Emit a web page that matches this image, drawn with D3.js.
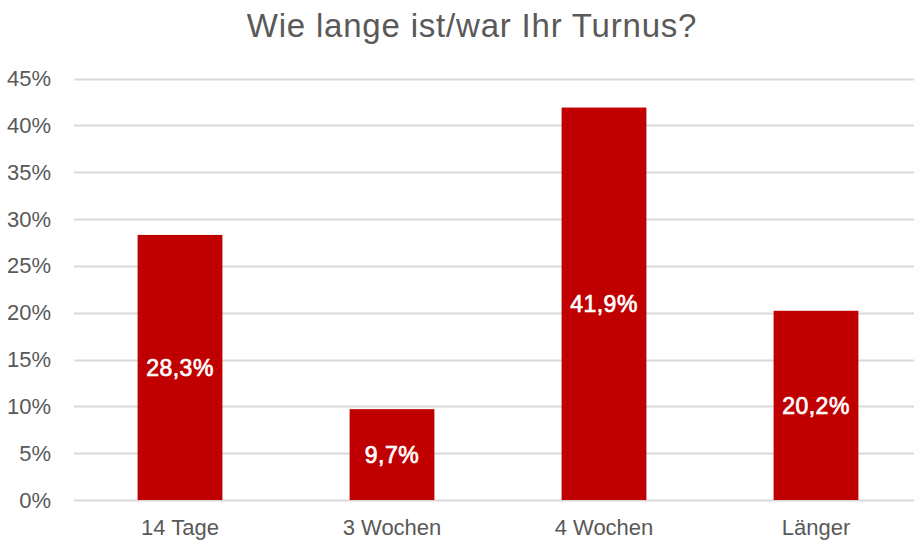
<!DOCTYPE html>
<html>
<head>
<meta charset="utf-8">
<script src="https://cdn.jsdelivr.net/npm/d3@7"></script>
<style>
  body { margin: 0; background: #fff; }
  svg text { font-family: "Liberation Sans", Arial, sans-serif; }
</style>
</head>
<body>
<svg width="914" height="545"></svg>
<script>
const TITLE = "Wie lange ist/war Ihr Turnus?";
const CATEGORIES = ["14 Tage", "3 Wochen", "4 Wochen", "Länger"];
const VALUES = [28.3, 9.7, 41.9, 20.2];
const TICKS = [0, 5, 10, 15, 20, 25, 30, 35, 40, 45];

const main = function() {
  const svg = d3.select("svg");
  const left = 74;
  const top = 78.5;
  const bottom = 500;

  const x = d3
    .scaleBand()
    .domain(CATEGORIES)
    .range([left, left + 4 * 212])
    .paddingInner(0.6)
    .paddingOuter(0.3);
  const y = d3
    .scaleLinear()
    .domain([0, 45])
    .range([bottom, top]);

  svg
    .append("text")
    .attr("x", 472)
    .attr("y", 37)
    .attr("text-anchor", "middle")
    .attr("font-size", 33)
    .attr("letter-spacing", 0.8)
    .attr("fill", "#595959")
    .text(TITLE);

  // gridlines
  svg
    .append("g")
    .selectAll("line")
    .data(TICKS)
    .enter()
    .append("line")
    .attr("x1", left)
    .attr("x2", 914)
    .attr("y1", d => Math.round(y(d)) + 0.5)
    .attr("y2", d => Math.round(y(d)) + 0.5)
    .attr("stroke", "#d9d9d9")
    .attr("stroke-width", 2);

  const yAxis = svg
    .append("g")
    .attr("transform", `translate(${left - 20},0)`)
    .call(d3.axisLeft(y).tickValues(TICKS).tickSize(0).tickFormat(d => d + "%"));
  yAxis.select(".domain").remove();
  yAxis
    .selectAll("text")
    .attr("font-size", 22)
    .attr("fill", "#595959")
    .attr("font-family", "Liberation Sans, Arial, sans-serif");

  svg
    .append("g")
    .selectAll("rect")
    .data(VALUES)
    .enter()
    .append("rect")
    .attr("x", (d, i) => x(CATEGORIES[i]))
    .attr("width", x.bandwidth())
    .attr("y", d => y(d))
    .attr("height", d => bottom - y(d))
    .attr("fill", "#c00000");

  svg
    .append("g")
    .selectAll("text")
    .data(VALUES)
    .enter()
    .append("text")
    .attr("x", (d, i) => x(CATEGORIES[i]) + x.bandwidth() / 2)
    .attr("y", d => (y(d) + bottom) / 2)
    .attr("dy", "0.36em")
    .attr("text-anchor", "middle")
    .attr("font-size", 23)
    .attr("letter-spacing", 0.5)
    .attr("fill", "#fff")
    .attr("stroke", "#fff")
    .attr("stroke-width", 0.7)
    .text(d => d.toFixed(1).replace(".", ",") + "%");

  const xAxis = svg
    .append("g")
    .attr("transform", `translate(0,${bottom + 16})`)
    .call(d3.axisBottom(x).tickSize(0));
  xAxis.select(".domain").remove();
  xAxis
    .selectAll("text")
    .attr("font-size", 22)
    .attr("fill", "#595959")
    .attr("font-family", "Liberation Sans, Arial, sans-serif");
};

window.onload = main;
</script>
</body>
</html>
